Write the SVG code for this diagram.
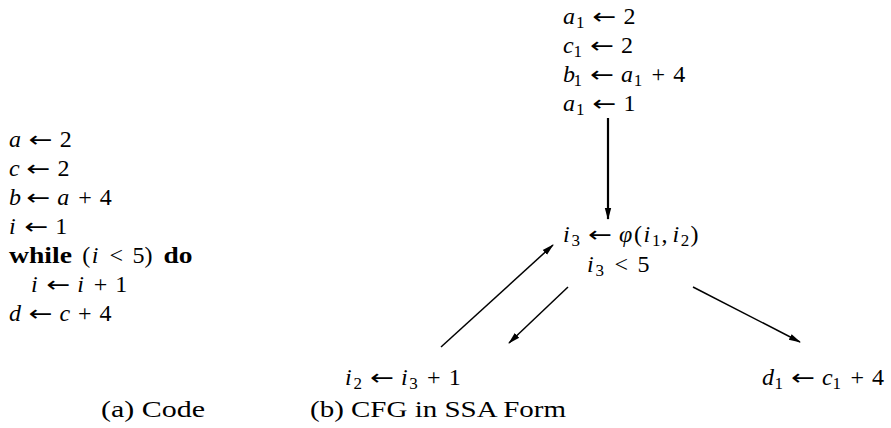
<svg xmlns="http://www.w3.org/2000/svg" width="891" height="428" viewBox="0 0 891 428">
<style>
text{font-family:"Liberation Serif","DejaVu Serif",serif;font-size:24px;fill:#000}
.m{font-style:italic}
.b{font-weight:bold}
.s{font-size:17px;font-style:normal}
.ar{font-family:"DejaVu Sans",sans-serif;font-size:22px}
.e{stroke:#000;stroke-width:1.5;fill:none}
</style>
<defs>
<marker id="ah" viewBox="0 0 12 10" refX="11" refY="5" markerWidth="12" markerHeight="10" markerUnits="userSpaceOnUse" orient="auto">
<path d="M0,1.8 L12,5 L0,8.2 Z" fill="#000"/>
</marker>
</defs>
<g id="code">
<text y="147"><tspan class="m" x="9">a</tspan><tspan class="ar" x="28.6" textLength="24" lengthAdjust="spacingAndGlyphs">←</tspan><tspan x="59.7">2</tspan></text>
<text y="176"><tspan class="m" x="9">c</tspan><tspan class="ar" x="26.3" textLength="24" lengthAdjust="spacingAndGlyphs">←</tspan><tspan x="57.4">2</tspan></text>
<text y="205"><tspan class="m" x="9">b</tspan><tspan class="ar" x="26.2" textLength="24" lengthAdjust="spacingAndGlyphs">←</tspan><tspan class="m" x="57.2">a</tspan><tspan x="78.2">+</tspan><tspan x="99.8">4</tspan></text>
<text y="234"><tspan class="m" x="9">i</tspan><tspan class="ar" x="24.2" textLength="24" lengthAdjust="spacingAndGlyphs">←</tspan><tspan x="55.2">1</tspan></text>
<text y="263"><tspan class="b" x="9" textLength="63" lengthAdjust="spacingAndGlyphs">while</tspan><tspan x="82.3">(</tspan><tspan class="m" x="91.8">i</tspan><tspan x="109.6">&lt;</tspan><tspan x="132.6">5)</tspan><tspan class="b" x="163.5" textLength="29" lengthAdjust="spacingAndGlyphs">do</tspan></text>
<text y="292"><tspan class="m" x="31">i</tspan><tspan class="ar" x="46.2" textLength="24" lengthAdjust="spacingAndGlyphs">←</tspan><tspan class="m" x="77.2">i</tspan><tspan x="93.7">+</tspan><tspan x="115.3">1</tspan></text>
<text y="321"><tspan class="m" x="9">d</tspan><tspan class="ar" x="28.4" textLength="24" lengthAdjust="spacingAndGlyphs">←</tspan><tspan class="m" x="59.4">c</tspan><tspan x="78">+</tspan><tspan x="99.6">4</tspan></text>
</g>
<g id="entry">
<text y="24"><tspan class="m" x="563">a</tspan><tspan class="s" x="575.9" y="28">1</tspan><tspan class="ar" x="592.3" y="24" textLength="24" lengthAdjust="spacingAndGlyphs">←</tspan><tspan x="623.4">2</tspan></text>
<text y="53"><tspan class="m" x="563">c</tspan><tspan class="s" x="573.5" y="57">1</tspan><tspan class="ar" x="590" y="53" textLength="24" lengthAdjust="spacingAndGlyphs">←</tspan><tspan x="621">2</tspan></text>
<text y="82"><tspan class="m" x="563">b</tspan><tspan class="s" x="573.4" y="86">1</tspan><tspan class="ar" x="589.9" y="82" textLength="24" lengthAdjust="spacingAndGlyphs">←</tspan><tspan class="m" x="620.9">a</tspan><tspan class="s" x="633.8" y="86">1</tspan><tspan x="651.6" y="82">+</tspan><tspan x="673.2">4</tspan></text>
<text y="111"><tspan class="m" x="563">a</tspan><tspan class="s" x="575.9" y="115">1</tspan><tspan class="ar" x="592.3" y="111" textLength="24" lengthAdjust="spacingAndGlyphs">←</tspan><tspan x="623.4">1</tspan></text>
</g>
<g id="loop">
<text y="242"><tspan class="m" x="563">i</tspan><tspan class="s" x="571.4" y="246">3</tspan><tspan class="ar" x="587.9" y="242" textLength="24" lengthAdjust="spacingAndGlyphs">←</tspan><tspan class="m" x="618.9">φ</tspan><tspan x="634">(</tspan><tspan class="m" x="643.5">i</tspan><tspan class="s" x="651.9" y="246">1</tspan><tspan x="661.6" y="242">,</tspan><tspan class="m" x="672.4">i</tspan><tspan class="s" x="680.8" y="246">2</tspan><tspan x="690.5" y="242">)</tspan></text>
<text y="272"><tspan class="m" x="587">i</tspan><tspan class="s" x="595.4" y="276">3</tspan><tspan x="614.6" y="272">&lt;</tspan><tspan x="637.5">5</tspan></text>
</g>
<g id="body">
<text y="385"><tspan class="m" x="345">i</tspan><tspan class="s" x="353.4" y="389">2</tspan><tspan class="ar" x="369.9" y="385" textLength="24" lengthAdjust="spacingAndGlyphs">←</tspan><tspan class="m" x="400.9">i</tspan><tspan class="s" x="409.3" y="389">3</tspan><tspan x="427.1" y="385">+</tspan><tspan x="448.7">1</tspan></text>
</g>
<g id="exit">
<text y="385"><tspan class="m" x="762">d</tspan><tspan class="s" x="774.6" y="389">1</tspan><tspan class="ar" x="791.1" y="385" textLength="24" lengthAdjust="spacingAndGlyphs">←</tspan><tspan class="m" x="822.1">c</tspan><tspan class="s" x="832.6" y="389">1</tspan><tspan x="850.4" y="385">+</tspan><tspan x="872">4</tspan></text>
</g>
<g id="captions">
<text x="101" y="417" textLength="104" lengthAdjust="spacingAndGlyphs">(a) Code</text>
<text x="310" y="417" textLength="256" lengthAdjust="spacingAndGlyphs">(b) CFG in SSA Form</text>
</g>
<g id="connectors">
<line class="e" x1="608" y1="118" x2="608" y2="219" style="stroke-width:2.2" marker-end="url(#ah)"/>
<line class="e" x1="441" y1="347" x2="553" y2="245" marker-end="url(#ah)"/>
<line class="e" x1="568" y1="287" x2="509" y2="343" marker-end="url(#ah)"/>
<line class="e" x1="693" y1="287" x2="800" y2="342" marker-end="url(#ah)"/>
</g>
</svg>
